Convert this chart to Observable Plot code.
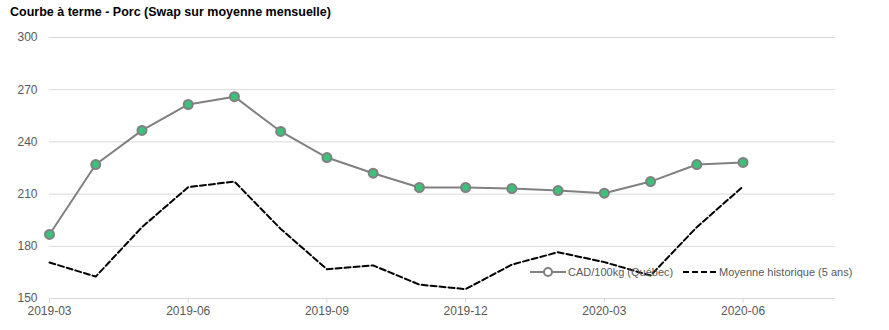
<!DOCTYPE html>
<html>
<head>
<meta charset="utf-8">
<script src="https://cdn.jsdelivr.net/npm/d3@7"></script>
<script src="https://cdn.jsdelivr.net/npm/@observablehq/plot@0.6"></script>
<style>
  body { margin: 0; background: #fff; font-family: "Liberation Sans", Arial, sans-serif; }
  #wrap { position: relative; width: 889px; height: 330px; }
  #title { position: absolute; left: 10px; top: 5px; font-size: 12.5px; font-weight: bold; color: #000; }
  #chart { position: absolute; left: 0; top: 24px; }
  .leg { position: absolute; top: 265px; font-size: 11px; color: #595959; display: flex; align-items: center; white-space: nowrap; }
</style>
</head>
<body>
<div id="wrap">
  <div id="title">Courbe à terme - Porc (Swap sur moyenne mensuelle)</div>
  <div id="chart"></div>
  <div class="leg" style="left:530px">
    <svg width="36" height="14"><line x1="0" y1="7" x2="36" y2="7" stroke="#808080" stroke-width="2"/><circle cx="18" cy="7" r="4" fill="#fff" stroke="#808080" stroke-width="2"/></svg>
    <span style="margin-left:2px">CAD/100kg (Québec)</span>
  </div>
  <div class="leg" style="left:683px">
    <svg width="34" height="14"><line x1="0" y1="7" x2="34" y2="7" stroke="#000" stroke-width="2" stroke-dasharray="6,3"/></svg>
    <span style="margin-left:2px">Moyenne historique (5 ans)</span>
  </div>
</div>
<script>
const months = ["2019-03","2019-04","2019-05","2019-06","2019-07","2019-08","2019-09","2019-10","2019-11","2019-12","2020-01","2020-02","2020-03","2020-04","2020-05","2020-06"];
const cad = [186.8, 227, 246.6, 261.5, 266, 246, 231, 222, 213.8, 213.8, 213.2, 212, 210.5, 217.2, 227, 228.2];
const hist = [170.7, 162.6, 191, 214, 217.2, 190, 166.8, 169, 158, 155.4, 169.5, 176.6, 170.9, 163.2, 191, 214.4];
const xTicks = ["2019-03","2019-06","2019-09","2019-12","2020-03","2020-06"];
const yTicks = [150, 180, 210, 240, 270, 300];

const data = months.map((m, i) => ({i, m, cad: cad[i], hist: hist[i]}));

const chart = Plot.plot({
  width: 889,
  height: 306,
  marginLeft: 49,
  marginRight: 54,
  marginTop: 13,
  marginBottom: 32,
  style: {fontFamily: "'Liberation Sans', Arial, sans-serif", fontSize: "12px", color: "#595959", background: "#fff"},
  x: {type: "linear", domain: [0, 17], axis: null, label: null},
  y: {domain: [150, 300], axis: null, label: null},
  marks: [
    Plot.gridY(yTicks, {stroke: "#d9d9d9", strokeOpacity: 1}),
    Plot.axisX(xTicks.map(t => months.indexOf(t)), {tickSize: 5, tickPadding: 3, stroke: "#d9d9d9", fill: "#595959", tickFormat: d => months[d], fontSize: 12, label: null}),
    Plot.axisY(yTicks, {tickSize: 0, tickPadding: 12, fill: "#595959", fontSize: 12, label: null}),
    Plot.line(data, {x: "i", y: "hist", stroke: "#000", strokeWidth: 2, strokeDasharray: "6,3"}),
    Plot.line(data, {x: "i", y: "cad", stroke: "#808080", strokeWidth: 2}),
    Plot.dot(data, {x: "i", y: "cad", r: 4.5, fill: "#3cc17a", stroke: "#808080", strokeWidth: 2})
  ]
});
document.getElementById("chart").appendChild(chart);
</script>
</body>
</html>
